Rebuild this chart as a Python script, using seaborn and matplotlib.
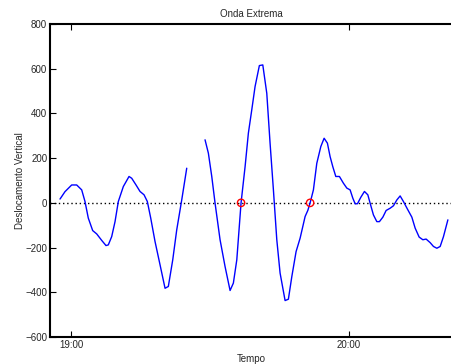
import numpy as np
import pandas as pd
import matplotlib
matplotlib.use("Agg")
import matplotlib.pyplot as plt
import seaborn as sns

# Time in minutes after 19:00 and vertical displacement, two recorded segments
seg1_min = [-2.37, -1.30, 0.15, 1.23, 2.31, 3.02, 3.73, 4.68, 5.55, 6.63, 7.55, 8.05,
            8.78, 9.50, 10.21, 11.29, 12.52, 13.10, 14.03, 14.89, 15.76, 16.47, 17.20,
            18.13, 19.21, 20.29, 21.00, 21.95, 22.81, 23.89, 24.97]
seg1_val = [17, 50, 80, 80, 58, 6, -68, -124, -139, -168, -191, -188,
            -151, -84, 6, 73, 118, 110, 80, 51, 36, 6, -68,
            -173, -277, -382, -374, -255, -121, 13, 155]

seg2_min = [28.92, 29.64, 30.37, 31.08, 32.16, 33.24, 34.32, 35.03, 35.77, 36.69, 37.56,
            38.27, 39.00, 39.71, 40.64, 41.38, 42.24, 42.95, 43.67, 44.40, 45.11, 46.19,
            46.90, 47.64, 48.56, 49.43, 50.51, 51.09, 51.59, 52.30, 53.03, 53.90, 54.61,
            55.32, 55.90, 56.48, 57.13, 57.91, 58.77, 59.51, 60.22, 60.80, 61.30, 61.80,
            62.53, 63.31, 64.04, 64.69, 65.25, 65.98, 66.54, 67.28, 67.99, 68.85, 69.57,
            70.30, 71.01, 71.72, 72.59, 73.54, 74.25, 75.11, 75.91, 76.62, 77.49, 78.20,
            78.93, 79.65, 80.36, 81.31]
seg2_val = [282, 222, 118, -1, -165, -285, -392, -359, -255, 0, 162,
            312, 416, 520, 614, 617, 490, 267, 58, -165, -314, -437,
            -431, -330, -218, -158, -61, -34, 0, 58, 177, 252, 289,
            267, 207, 162, 118, 118, 88, 66, 58, 21, -4, -4,
            25, 51, 36, -13, -54, -84, -84, -64, -34, -24, -13,
            13, 31, 6, -28, -64, -113, -153, -165, -162, -178, -195,
            -203, -195, -151, -76]

# Zero crossings marking the extreme wave
cross_min = [36.69, 51.59]
cross_val = [0, 0]

tick_min = [0, 60]
tick_labels = ["19:00", "20:00"]
y_ticks = [-600, -400, -200, 0, 200, 400, 600, 800]

df = pd.concat([
    pd.DataFrame({"t": seg1_min, "v": seg1_val, "seg": 1}),
    pd.DataFrame({"t": seg2_min, "v": seg2_val, "seg": 2}),
], ignore_index=True)

sns.set_style("white")
plt.rcParams["font.family"] = ["Liberation Sans", "DejaVu Sans"]

fig = plt.figure(figsize=(4.52, 3.64), dpi=100)
ax = fig.add_axes([50 / 452, 1 - 337 / 364, 1 - 50 / 452, (337 - 24) / 364])

ax.axhline(0, color="black", linestyle=(0, (1, 2)), linewidth=1.0, zorder=1)
sns.lineplot(data=df, x="t", y="v", units="seg", estimator=None, color="#0000ff",
             linewidth=1.0, ax=ax, zorder=2)
sns.scatterplot(x=cross_min, y=cross_val, ax=ax, marker="o", s=28,
                facecolors="none", edgecolor="red", linewidth=1.0, zorder=3)

ax.set_xlim(-4.53, 82.2)
ax.set_ylim(-600, 800)
ax.set_xticks(tick_min)
ax.set_xticklabels(tick_labels)
ax.set_yticks(y_ticks)
ax.tick_params(direction="in", length=4, width=0.8, labelsize=7, color="black",
               top=True, bottom=True, left=True, right=False, pad=2)
for side in ["left", "bottom", "top"]:
    ax.spines[side].set_visible(True)
    ax.spines[side].set_color("black")
    ax.spines[side].set_linewidth(1.5)
ax.spines["right"].set_visible(False)

ax.set_title("Onda Extrema", fontsize=7, pad=5)
ax.set_xlabel("Tempo", fontsize=7, labelpad=3)
ax.set_ylabel("Deslocamento Vertical", fontsize=7)
ax.yaxis.set_label_coords(-25 / 402, 0.5)

fig.savefig("out.png", dpi=100)
